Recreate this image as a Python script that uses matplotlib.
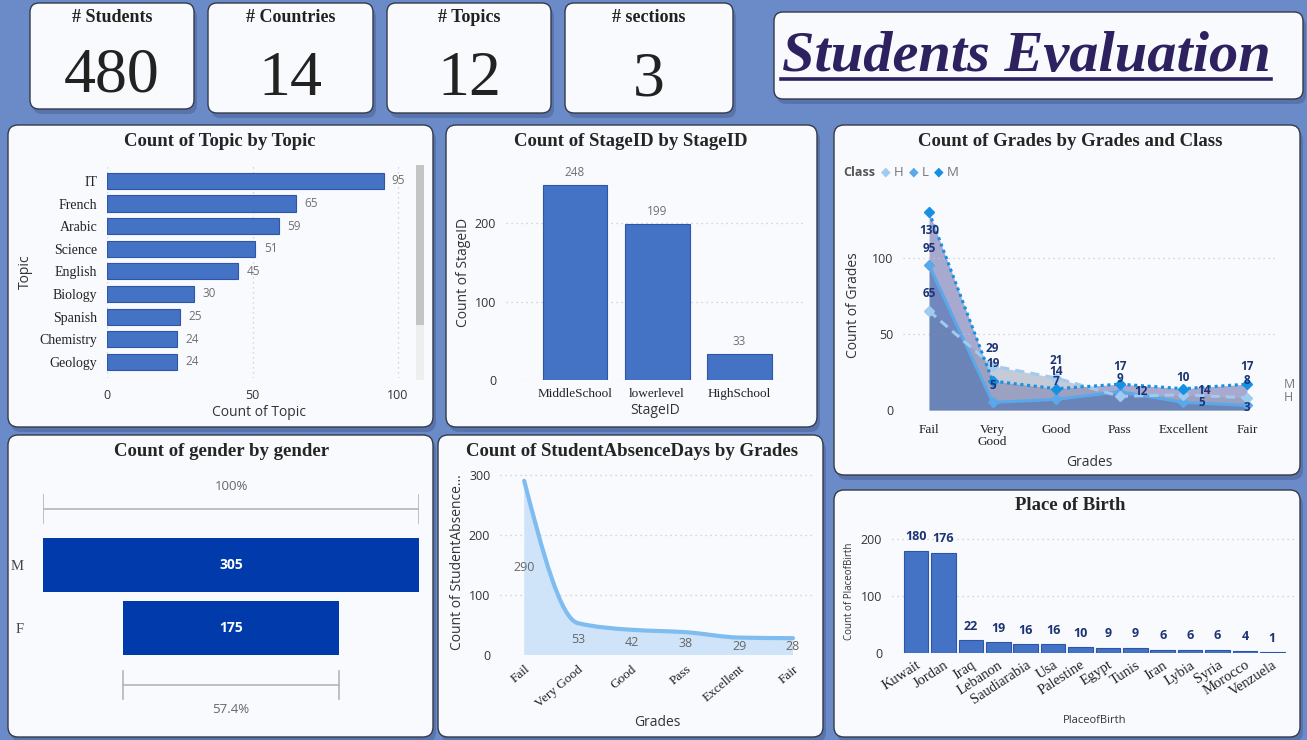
import matplotlib
matplotlib.use('Agg')
import matplotlib.pyplot as plt
from matplotlib.patches import FancyBboxPatch, Rectangle, PathPatch
from matplotlib.path import Path
from matplotlib.lines import Line2D
import numpy as np

# ---------------- data ----------------
kpi_labels = ['# Students', '# Countries', '# Topics', '# sections']
kpi_values = [480, 14, 12, 3]

topics = ['IT', 'French', 'Arabic', 'Science', 'English', 'Biology', 'Spanish', 'Chemistry', 'Geology']
topic_counts = [95, 65, 59, 51, 45, 30, 25, 24, 24]

stages = ['MiddleSchool', 'lowerlevel', 'HighSchool']
stage_counts = [248, 199, 33]

grades = ['Fail', 'Very Good', 'Good', 'Pass', 'Excellent', 'Fair']
class_names = ['H', 'L', 'M']
class_H = [65, 29, 21, 9, 10, 8]
class_L = [95, 5, 7, 12, 5, 3]
class_M = [130, 19, 14, 17, 14, 17]

genders = ['M', 'F']
gender_counts = [305, 175]

absence_counts = [290, 53, 42, 38, 29, 28]

countries = ['Kuwait', 'Jordan', 'Iraq', 'Lebanon', 'Saudiarabia', 'Usa', 'Palestine', 'Egypt',
             'Tunis', 'Iran', 'Lybia', 'Syria', 'Morocco', 'Venzuela']
country_counts = [180, 176, 22, 19, 16, 16, 10, 9, 9, 6, 6, 6, 4, 1]

# ---------------- style ----------------
W, H = 1307, 740
BG = '#6a8bc8'
CARD = '#f9fafd'
BAR = '#4472c4'
BAR_EDGE = '#2d55a8'
SERIF = 'Liberation Serif'
SANS = 'Open Sans'
GRID = '#c9c9c9'
NAVY = '#1c3474'

fig = plt.figure(figsize=(W / 100, H / 100), dpi=100)
fig.patch.set_facecolor(BG)


def card(x0, y0, x1, y1, r=10):
    sh = FancyBboxPatch((x0 / 100 + 0.03, (H - y1) / 100 - 0.05), (x1 - x0) / 100, (y1 - y0) / 100,
                        boxstyle=f"round,pad=0,rounding_size={r/100}", transform=fig.dpi_scale_trans,
                        fc='#4b6296', ec='none', alpha=0.55, zorder=-3)
    fig.add_artist(sh)
    bx = FancyBboxPatch((x0 / 100, (H - y1) / 100), (x1 - x0) / 100, (y1 - y0) / 100,
                        boxstyle=f"round,pad=0,rounding_size={r/100}", transform=fig.dpi_scale_trans,
                        fc=CARD, ec='#333a48', lw=1.0, zorder=-2)
    fig.add_artist(bx)


def axpx(l, t, r, b):
    ax = fig.add_axes([l / W, 1 - b / H, (r - l) / W, (b - t) / H])
    ax.set_facecolor('none')
    for s in ax.spines.values():
        s.set_visible(False)
    return ax


def ftext(x, y, s, **kw):
    return fig.text(x / W, 1 - y / H, s, **kw)


def title(x, y, s):
    ftext(x, y, s, ha='center', va='center', fontsize=13.5, fontweight='bold',
          family=SERIF, color='#252525')


def sans_ticks(ax, axis='y'):
    labels = ax.get_yticklabels() if axis == 'y' else ax.get_xticklabels()
    for t in labels:
        t.set_family(SANS)


# ---------------- KPI cards ----------------
kpi_boxes = [(30, 3, 194, 109), (208, 3, 373, 113), (387, 3, 551, 113), (565, 3, 733, 113)]
for (x0, y0, x1, y1), lab, val in zip(kpi_boxes, kpi_labels, kpi_values):
    card(x0, y0, x1, y1, r=9)
    cx = (x0 + x1) / 2
    ftext(cx, 18, lab, ha='center', va='center', fontsize=13, fontweight='bold',
          family=SERIF, color='#222222')
    ftext(cx, 77 if val == 480 else 80, str(val), ha='center', va='center', fontsize=46,
          family=SERIF, color='#222222')

# title card
card(774, 12, 1303, 99, r=9)
ftext(782, 57, 'Students Evaluation', ha='left', va='center', fontsize=42, fontweight='bold',
      style='italic', family=SERIF, color='#2e2160')
fig.add_artist(Line2D([781 / W, 1271 / W], [1 - 79 / H, 1 - 79 / H], color='#2e2160', lw=2.6))

# ---------------- Topic chart ----------------
card(8, 125, 433, 427)
title(220, 141, 'Count of Topic by Topic')
ax = axpx(107, 166, 410, 378)
y = np.arange(len(topics))
ax.barh(y, topic_counts, height=0.71, color=BAR, edgecolor=BAR_EDGE, lw=0.8, zorder=3)
ax.set_xlim(0, 104.1)
ax.set_ylim(8.72, -0.66)
ax.set_xticks([0, 50, 100])
ax.set_yticks(y)
ax.set_yticklabels(topics, family=SERIF, fontsize=10, color='#222222')
ax.tick_params(axis='y', length=0, pad=7)
ax.tick_params(axis='x', length=0, pad=8, labelsize=9, labelcolor='#333333')
sans_ticks(ax, 'x')
ax.grid(axis='x', ls=(0, (1, 3)), color=GRID, lw=0.9, zorder=0)
for yi, v in zip(y, topic_counts):
    ax.annotate(str(v), (v, yi), xytext=(6, 0), textcoords='offset points', va='center',
                ha='left', fontsize=8.5, color='#707070', family=SANS)
ax.set_xlabel('Count of Topic', family=SANS, fontsize=10, color='#333333', labelpad=2)
ftext(25, 272, 'Topic', rotation=90, ha='center', va='center', family=SANS, fontsize=10,
      color='#333333')
# scrollbar
fig.add_artist(Rectangle((416 / W, 1 - 380 / H), 8 / W, 215 / H, transform=fig.transFigure,
                         fc='#eeeeee', ec='none'))
fig.add_artist(Rectangle((416 / W, 1 - 325 / H), 8 / W, 160 / H, transform=fig.transFigure,
                         fc='#c4c4c4', ec='none'))

# ---------------- Stage chart ----------------
card(446, 125, 817, 427)
title(631, 141, 'Count of StageID by StageID')
ax = axpx(506, 165, 805, 380)
x = np.arange(len(stages))
ax.bar(x, stage_counts, width=0.79, color=BAR, edgecolor=BAR_EDGE, lw=0.8, zorder=3)
ax.set_ylim(0, 274)
ax.set_xlim(-0.84, 2.80)
ax.set_yticks([0, 100, 200])
ax.set_xticks(x)
ax.set_xticklabels(stages, family=SERIF, fontsize=9.5, color='#222222')
ax.tick_params(axis='x', length=0, pad=6)
ax.tick_params(axis='y', length=0, pad=7, labelsize=9, labelcolor='#333333')
sans_ticks(ax)
ax.grid(axis='y', ls=(0, (1, 3)), color=GRID, lw=0.9, zorder=0)
for xi, v in zip(x, stage_counts):
    ax.annotate(str(v), (xi, v), xytext=(0, 9), textcoords='offset points', va='center',
                ha='center', fontsize=8.5, color='#707070', family=SANS)
ax.set_xlabel('StageID', family=SANS, fontsize=10, color='#333333', labelpad=2)
ax.set_ylabel('Count of StageID', family=SANS, fontsize=10, color='#333333', labelpad=3)

# ---------------- Grades by class chart ----------------
card(834, 125, 1300, 475)
title(1070, 142, 'Count of Grades by Grades and Class')
ax = axpx(903, 200, 1275, 410)
gx = np.arange(len(grades))
series = {'H': class_H, 'L': class_L, 'M': class_M}
fill_col = {'M': '#5659a2', 'H': '#929bb6', 'L': '#3a69b0'}
line_col = {'H': '#9fcbf1', 'L': '#5aa8ea', 'M': '#1590e2'}
line_ls = {'H': (0, (3, 2)), 'L': '-', 'M': (0, (1, 1.2))}
for z, name in enumerate(['M', 'H', 'L']):
    ax.fill_between(gx, 0, series[name], color=fill_col[name], alpha=0.5, lw=0, zorder=1 + z)
for z, name in enumerate(['L', 'H', 'M']):
    ax.plot(gx, series[name], color=line_col[name], ls=line_ls[name], lw=2.2, marker='D',
            ms=5, zorder=5 + z)
ax.set_xlim(-0.41, 5.44)
ax.set_ylim(0, 138)
ax.set_yticks([0, 50, 100])
ax.set_xticks(gx)
ax.set_xticklabels([g.replace(' ', '\n') for g in grades], family=SERIF, fontsize=9.5,
                   color='#222222', va='top', linespacing=1.0)
ax.tick_params(axis='x', length=0, pad=10)
ax.tick_params(axis='y', length=0, pad=7, labelsize=9, labelcolor='#333333')
sans_ticks(ax)
ax.grid(axis='y', ls=(0, (1, 3)), color=GRID, lw=0.9, zorder=0)
ax.set_xlabel('Grades', family=SANS, fontsize=10, color='#333333', labelpad=5)
ax.set_ylabel('Count of Grades', family=SANS, fontsize=10, color='#333333', labelpad=8)
special = {('M', 0): (0, -13), ('L', 3): (15, 0), ('M', 4): (15, -1.5), ('L', 4): (13, 0),
           ('L', 5): (0, -1.5)}
for name in ['H', 'L', 'M']:
    for i, v in enumerate(series[name]):
        off = special.get((name, i), (0, 12.5))
        ax.annotate(str(v), (i, v), xytext=off, textcoords='offset points', ha='center',
                    va='center', fontsize=8.5, fontweight='bold', color=NAVY, family=SANS,
                    zorder=10)
for name in ['M', 'H']:
    ax.annotate(name, (1, series[name][-1]), xycoords=('axes fraction', 'data'), xytext=(6, 0),
                textcoords='offset points', ha='left', va='center', fontsize=9, color='#777777',
                family=SANS)
# legend
ftext(843, 172, 'Class', ha='left', va='center', fontsize=9, fontweight='bold', color='#555555',
      family=SANS)
for lx, name in zip([881, 909, 934], class_names):
    ftext(lx, 172, '\u25C6', ha='left', va='center', fontsize=9, color=line_col[name],
          family='DejaVu Sans')
    ftext(lx + 13, 172, name, ha='left', va='center', fontsize=9.5, color='#777777', family=SANS)

# ---------------- Gender funnel ----------------
card(8, 435, 433, 737)
title(222, 451, 'Count of gender by gender')
ax = axpx(43, 470, 419, 725)
gmax = max(gender_counts)
gy = np.arange(len(genders))
lefts = [(gmax - v) / 2 for v in gender_counts]
ax.barh(gy, gender_counts, left=lefts, height=0.87, color='#003aab', zorder=3)
ax.set_xlim(0, gmax)
ax.set_ylim(2.54, -1.51)
ax.set_xticks([])
ax.set_yticks(gy)
ax.set_yticklabels(genders, family=SERIF, fontsize=10.5, color='#444444')
ax.tick_params(axis='y', length=0, pad=14)
for yi, v in zip(gy, gender_counts):
    ax.text(gmax / 2, yi, str(v), ha='center', va='center', color='white', fontweight='bold',
            fontsize=10, family=SANS, zorder=4)
for (l, v), ybr, ylab, lab in [((lefts[0], gender_counts[0]), -0.89, -1.25, '100%'),
                               ((lefts[1], gender_counts[1]), 1.90, 2.30,
                                f'{gender_counts[1] / gender_counts[0] * 100:.1f}%')]:
    ax.plot([l, l + v], [ybr, ybr], color='#b5b5b5', lw=1.2)
    ax.plot([l, l], [ybr - 0.22, ybr + 0.22], color='#b5b5b5', lw=1.2)
    ax.plot([l + v, l + v], [ybr - 0.22, ybr + 0.22], color='#b5b5b5', lw=1.2)
    ax.text(gmax / 2, ylab, lab, ha='center', va='center', fontsize=9.5, color='#666666',
            family=SANS)

# ---------------- Absence chart ----------------
card(438, 435, 823, 737)
title(632, 451, 'Count of StudentAbsenceDays by Grades')
ax = axpx(500, 470, 815, 655)
ay = np.array(absence_counts, dtype=float)
ax_ = np.arange(len(ay), dtype=float)
d = np.diff(ay)
m = np.zeros_like(ay)
for i in range(1, len(ay) - 1):
    m[i] = 2 / (1 / d[i - 1] + 1 / d[i]) if d[i - 1] * d[i] > 0 else 0
m[0] = (3 * d[0] - m[1]) / 2
m[-1] = (3 * d[-1] - m[-2]) / 2
verts = [(ax_[0], ay[0])]
codes = [Path.MOVETO]
for i in range(len(ay) - 1):
    verts += [(ax_[i] + 1 / 3, ay[i] + m[i] / 3), (ax_[i + 1] - 1 / 3, ay[i + 1] - m[i + 1] / 3),
              (ax_[i + 1], ay[i + 1])]
    codes += [Path.CURVE4] * 3
line_path = Path(verts, codes)
fill_path = Path(verts + [(ax_[-1], 0), (ax_[0], 0), (ax_[0], ay[0])],
                 codes + [Path.LINETO, Path.LINETO, Path.CLOSEPOLY])
ax.add_patch(PathPatch(fill_path, fc='#cfe4f9', ec='none', zorder=2))
ax.add_patch(PathPatch(line_path, fc='none', ec='#7fbcef', lw=3, zorder=3, capstyle='round'))
ax.set_xlim(-0.45, 5.41)
ax.set_ylim(0, 308)
ax.set_yticks([0, 100, 200, 300])
ax.set_xticks(ax_)
ax.set_xticklabels(grades, family=SERIF, fontsize=9.5, color='#222222', rotation=40,
                   ha='right', rotation_mode='anchor')
ax.tick_params(axis='x', length=0, pad=6)
ax.tick_params(axis='y', length=0, pad=7, labelsize=9, labelcolor='#333333')
sans_ticks(ax)
ax.grid(axis='y', ls=(0, (1, 3)), color=GRID, lw=0.9, zorder=0)
for xi, v in zip(ax_, absence_counts):
    ax.text(xi, v / 2, str(v), ha='center', va='center', fontsize=9, color='#666666',
            family=SANS, zorder=4)
ax.set_xlabel('Grades', family=SANS, fontsize=10, color='#333333', labelpad=4)
ax.set_ylabel('Count of StudentAbsence...', family=SANS, fontsize=10, color='#333333',
              labelpad=3)

# ---------------- Place of birth ----------------
card(834, 490, 1300, 737)
title(1070, 506, 'Place of Birth')
ax = axpx(892, 530, 1297, 653)
cx = np.arange(len(countries))
ax.bar(cx, country_counts, width=0.9, color=BAR, edgecolor=BAR_EDGE, lw=0.8, zorder=3)
ax.set_xlim(-0.88, 13.9)
ax.set_ylim(0, 216)
ax.set_yticks([0, 100, 200])
ax.set_xticks(cx)
ax.set_xticklabels(countries, family=SERIF, fontsize=10.5, color='#222222', rotation=33,
                   ha='right', rotation_mode='anchor')
ax.tick_params(axis='x', length=0, pad=4)
ax.tick_params(axis='y', length=0, pad=7, labelsize=9, labelcolor='#333333')
sans_ticks(ax)
ax.grid(axis='y', ls=(0, (1, 3)), color=GRID, lw=0.9, zorder=0)
for xi, v in zip(cx, country_counts):
    ax.annotate(str(v), (xi, v), xytext=(0, 10), textcoords='offset points', ha='center',
                va='center', fontsize=9, fontweight='bold', color=NAVY, family=SANS)
ax.set_xlabel('PlaceofBirth', family=SANS, fontsize=8, color='#333333', labelpad=6)
ax.set_ylabel('Count of PlaceofBirth', family=SANS, fontsize=7, color='#333333', labelpad=4)

fig.savefig('out.png', dpi=100, facecolor=fig.get_facecolor())
